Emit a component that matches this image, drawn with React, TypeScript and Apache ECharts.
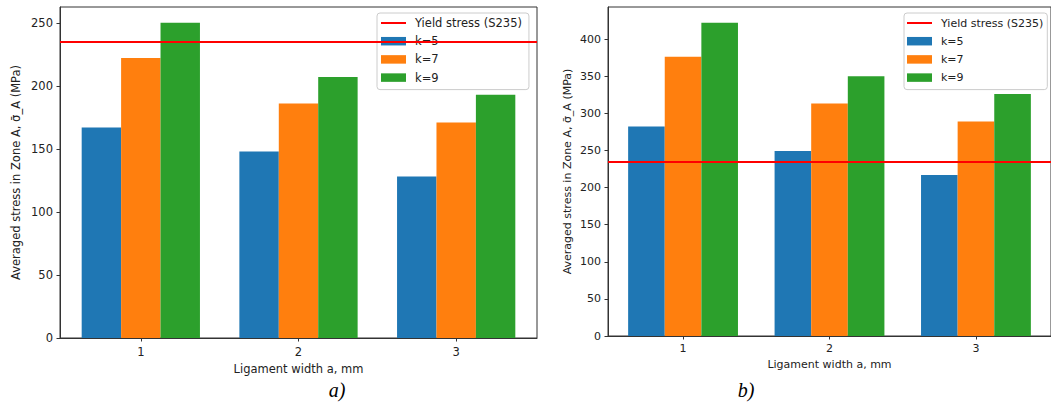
import React, { useEffect, useRef } from "react";
import * as echarts from "echarts";

const categories = [1, 2, 3];
const seriesNames = ["k=5", "k=7", "k=9"];
const yieldName = "Yield stress (S235)";
const yieldStress = 235;

const leftK5 = [167, 148, 128];
const leftK7 = [222, 186, 171];
const leftK9 = [250, 207, 193];

const rightK5 = [282, 249, 217];
const rightK7 = [376, 313, 289];
const rightK9 = [422, 350, 326];

const leftYTicks = [0, 50, 100, 150, 200, 250];
const rightYTicks = [0, 50, 100, 150, 200, 250, 300, 350, 400];

const xTitle = "Ligament width a, mm";
const yTitle = "Averaged stress in Zone A, σ̄_A (MPa)";
const captions = ["a)", "b)"];

const colors = ["#1f77b4", "#ff7f0e", "#2ca02c"];
const FONT = "DejaVu Sans";

function makePanel(idx: number, sets: number[][], yTicks: number[], fs: number, yNameGap: number, xNameGap: number, xLabelMargin: number) {
  const lo = categories[0] - 0.375;
  const hi = categories[categories.length - 1] + 0.375;
  const pad = (hi - lo) * 0.05;
  const ymax = Math.max(...sets.flat()) * 1.05;
  const textStyle = { fontSize: fs, color: "#222", fontFamily: FONT };
  const xAxis = {
    gridIndex: idx,
    type: "value",
    min: lo - pad,
    max: hi + pad,
    axisLine: { show: true, onZero: false, lineStyle: { color: "#333", width: 1 } },
    axisTick: { show: true, length: 3.5, customValues: categories, lineStyle: { color: "#333" } },
    axisLabel: { customValues: categories, margin: xLabelMargin, ...textStyle },
    splitLine: { show: false },
    name: xTitle,
    nameLocation: "middle",
    nameGap: xNameGap,
    nameTextStyle: textStyle,
  };
  const yAxis = {
    gridIndex: idx,
    type: "value",
    min: 0,
    max: ymax,
    axisLine: { show: true, lineStyle: { color: "#333", width: 1 } },
    axisTick: { show: true, length: 3.5, customValues: yTicks, lineStyle: { color: "#333" } },
    axisLabel: { customValues: yTicks, margin: 7, ...textStyle },
    splitLine: { show: false },
    name: yTitle,
    nameLocation: "middle",
    nameRotate: 90,
    nameGap: yNameGap,
    nameTextStyle: textStyle,
  };
  const bars = sets.map((vals, si) => ({
    type: "bar",
    name: seriesNames[si],
    xAxisIndex: idx,
    yAxisIndex: idx,
    data: categories.map((c, i) => [c, vals[i]]),
    barWidth: "25%",
    barGap: "0%",
    itemStyle: { color: colors[si] },
    z: 2,
  }));
  const line = {
    type: "line",
    name: yieldName,
    xAxisIndex: idx,
    yAxisIndex: idx,
    data: [] as number[][],
    symbol: "none",
    color: "#ff0000",
    lineStyle: { color: "#ff0000", width: 2 },
    z: 3,
    markLine: {
      silent: true,
      symbol: "none",
      label: { show: false },
      lineStyle: { color: "#ff0000", width: 2, type: "solid" },
      data: [{ yAxis: yieldStress }],
    },
  };
  return { xAxis, yAxis, series: [...bars, line] };
}

function makeLegend(left: number, fs: number, padding: number[]) {
  return {
    orient: "vertical",
    left,
    top: 13,
    padding,
    itemWidth: 25,
    itemHeight: 8.5,
    itemGap: 4.2,
    backgroundColor: "rgba(255,255,255,0.8)",
    borderColor: "#cccccc",
    borderWidth: 1,
    borderRadius: 3,
    selectedMode: false,
    symbolKeepAspect: true,
    textStyle: { fontSize: fs, color: "#222", fontFamily: FONT, lineHeight: 14, padding: [0, 0, 0, 4] },
    data: [
      { name: yieldName, icon: "path://M0,0H25V2H0Z", itemStyle: { color: "#ff0000" } },
      ...seriesNames.map((n) => ({ name: n, icon: "rect" })),
    ],
  };
}

export default function App() {
  const ref = useRef<HTMLDivElement>(null);
  useEffect(() => {
    if (!ref.current) return;
    const chart = echarts.init(ref.current, undefined, { renderer: "svg" });
    const p0 = makePanel(0, [leftK5, leftK7, leftK9], leftYTicks, 11.5, 38, 23, 8);
    const p1 = makePanel(1, [rightK5, rightK7, rightK9], rightYTicks, 11, 35, 22, 7);
    chart.setOption({
      animation: false,
      backgroundColor: "#ffffff",
      grid: [
        { left: 60, top: 7, width: 477, height: 331, show: true, borderColor: "#333", borderWidth: 1, backgroundColor: "transparent" },
        { left: 608, top: 7, width: 446, height: 329, show: true, borderColor: "#333", borderWidth: 1, backgroundColor: "transparent" },
      ],
      xAxis: [p0.xAxis, p1.xAxis],
      yAxis: [p0.yAxis, p1.yAxis],
      legend: [makeLegend(377, 11.5, [3, 7, 5, 4]), makeLegend(904, 11, [3, 4, 5, 3])],
      series: [...p0.series, ...p1.series],
      graphic: [
        { type: "text", x: 337, y: 390, style: { text: captions[0], font: 'italic 20px "Liberation Serif"', fill: "#000", align: "center", verticalAlign: "middle" } },
        { type: "text", x: 746, y: 390, style: { text: captions[1], font: 'italic 20px "Liberation Serif"', fill: "#000", align: "center", verticalAlign: "middle" } },
      ],
    });
    return () => chart.dispose();
  }, []);
  return <div ref={ref} style={{ position: "absolute", left: 0, top: 0, width: 1051, height: 406 }} />;
}
